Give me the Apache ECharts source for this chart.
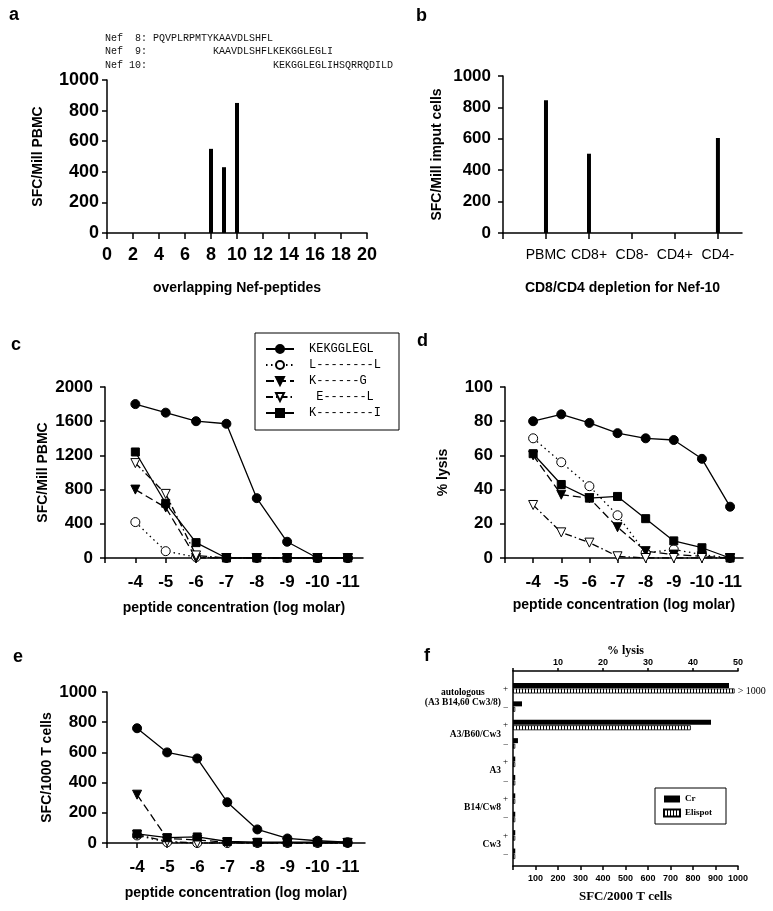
<!DOCTYPE html>
<html><head><meta charset="utf-8">
<script src="https://cdn.jsdelivr.net/npm/echarts@6/dist/echarts.min.js"></script>
<style>html,body{margin:0;padding:0;background:#fff}#c{width:773px;height:911px}</style>
</head><body><div id="c"></div>
<script>
// ---------- data ----------
const seqNames = ['Nef  8:', 'Nef  9:', 'Nef 10:'];
const seqTexts = ['PQVPLRPMTYKAAVDLSHFL', 'KAAVDLSHFLKEKGGLEGLI', 'KEKGGLEGLIHSQRRQDILD'];
const seqOffsets = [0, 10, 20];

const aPeptides = [8, 9, 10];
const aSfc = [550, 430, 850];

const bCategories = ['PBMC', 'CD8+', 'CD8-', 'CD4+', 'CD4-'];
const bSfc = [845, 505, 0, 0, 605];

const conc = [-4, -5, -6, -7, -8, -9, -10, -11];
const peptideNames = ['KEKGGLEGL', 'L--------L', 'K------G', ' E------L', 'K--------I'];

const cKEK = [1800, 1700, 1600, 1570, 700, 190, 0, 0];
const cLL  = [420, 80, 10, 0, 0, 0, 0, 0];
const cKG  = [800, 590, 0, 0, 0, 0, 0, 0];
const cEL  = [1110, 750, 30, 0, 0, 0, 0, 0];
const cKI  = [1240, 640, 180, 0, 0, 0, 0, 0];

const dKEK = [80, 84, 79, 73, 70, 69, 58, 30];
const dLL  = [70, 56, 42, 25, 3, 5, 2, 0];
const dKG  = [60, 37, 35, 18, 4, 2, 1, 0];
const dEL  = [31, 15, 9, 1, 0, 0, 0, 0];
const dKI  = [61, 43, 35, 36, 23, 10, 6, 0];

const eKEK = [760, 600, 560, 270, 90, 30, 15, 5];
const eLL  = [50, 5, 0, 0, 0, 0, 0, 0];
const eKG  = [320, 30, 20, 5, 0, 0, 0, 0];
const eEL  = [55, 10, 0, 0, 0, 0, 0, 0];
const eKI  = [60, 35, 40, 10, 5, 5, 5, 5];

const fGroups = ['autologous\n(A3 B14,60 Cw3/8)', 'A3/B60/Cw3', 'A3', 'B14/Cw8', 'Cw3'];
const fRowSigns = ['+', '–', '+', '–', '+', '–', '+', '–', '+', '–'];
const fCr = [48, 2, 44, 1.1, 0.5, 0.5, 0.5, 0.5, 0.5, 0.5];
const fElispot = [985, 10, 790, 10, 10, 10, 10, 10, 10, 10];
const fElispotNote = '> 1000';

// ---------- styles ----------
const SANS = '"Liberation Sans", Arial, sans-serif';
const SERIF = '"Liberation Serif", "Times New Roman", serif';
const MONO = '"Liberation Mono", "Courier New", monospace';
const LS = {color: '#000', width: 1.5};
function aLine() { return {show: true, onZero: false, lineStyle: LS}; }
function aTick(len, extra) { return Object.assign({show: true, length: len, lineStyle: LS}, extra || {}); }
function lbl(size, margin, extra) {
  return Object.assign({color: '#000', fontFamily: SANS, fontWeight: 'bold', fontSize: size, margin: margin,
    formatter: v => String(v)}, extra || {});
}
const nameStyle = {color: '#000', fontFamily: SANS, fontWeight: 'bold', fontSize: 14};

const marks = [
  {symbol: 'circle', size: 9, fill: '#000', line: 'solid', z: 5},
  {symbol: 'circle', size: 9, fill: '#fff', line: [1.5, 3.5], z: 2},
  {symbol: 'triangle', rotate: 180, size: 9, fill: '#000', line: [8, 4], z: 2},
  {symbol: 'triangle', rotate: 180, size: 9, fill: '#fff', line: [7, 3, 1.5, 3], z: 2},
  {symbol: 'rect', size: 8, fill: '#000', line: 'solid', z: 3}
];
function lineSeries(k, axis, values) {
  const m = marks[k];
  return {
    type: 'line', name: peptideNames[k], xAxisIndex: axis, yAxisIndex: axis,
    data: conc.map((c, i) => [-c, values[i]]),
    symbol: m.symbol, symbolSize: m.size, symbolRotate: m.rotate || 0, showSymbol: true,
    itemStyle: {color: m.fill, borderColor: '#000', borderWidth: 1},
    lineStyle: {color: '#000', width: 1.3, type: m.line},
    z: m.z, silent: true
  };
}
function concAxis(grid, max, gap) {
  return {
    type: 'value', gridIndex: grid, min: 3, max: max, interval: 1,
    axisLine: aLine(),
    axisTick: aTick(5, {customValues: [3].concat(conc.map(c => -c))}),
    axisLabel: lbl(17, 16, {customValues: conc.map(c => -c), formatter: v => String(-v)}),
    splitLine: {show: false},
    name: 'peptide concentration (log molar)', nameLocation: 'middle', nameGap: gap, nameTextStyle: nameStyle
  };
}
function yValAxis(grid, max, interval, size, margin, name, gap) {
  return {
    type: 'value', gridIndex: grid, min: 0, max: max, interval: interval,
    axisLine: aLine(), axisTick: aTick(5), axisLabel: lbl(size, margin), splitLine: {show: false},
    name: name, nameLocation: 'middle', nameGap: gap, nameTextStyle: nameStyle
  };
}

// Elispot stripe pattern
const pat = document.createElement('canvas');
pat.width = 3; pat.height = 4;
const g = pat.getContext('2d');
g.fillStyle = '#fff'; g.fillRect(0, 0, 3, 4);
g.fillStyle = '#000'; g.fillRect(0, 0, 1, 4);

const letters = [['a', 9, 6], ['b', 416, 7], ['c', 11, 336], ['d', 417, 332], ['e', 13, 648], ['f', 424, 647]];
const titles = letters.map(l => ({text: l[0], left: l[1], top: l[2], padding: 0,
  textStyle: {fontFamily: SANS, fontWeight: 'bold', fontSize: 18, color: '#000'}}));
seqNames.forEach((n, i) => {
  titles.push({text: n + ' ' + ' '.repeat(seqOffsets[i]) + seqTexts[i], left: 105, top: 33 + i * 13.5, padding: 0,
    textStyle: {fontFamily: MONO, fontWeight: 'normal', fontSize: 10, color: '#111'}});
});

const noBounds = {outerBoundsMode: 'none', containLabel: false};
const option = {
  animation: false,
  backgroundColor: '#fff',
  textStyle: {fontFamily: SANS},
  title: titles,
  grid: [
    Object.assign({left: 107, top: 80, width: 260, height: 153}, noBounds),
    Object.assign({left: 503, top: 76, width: 239, height: 157}, noBounds),
    Object.assign({left: 105, top: 387, width: 258, height: 171}, noBounds),
    Object.assign({left: 505, top: 387, width: 238, height: 171}, noBounds),
    Object.assign({left: 107, top: 692, width: 258, height: 151}, noBounds),
    Object.assign({left: 513, top: 671, width: 225, height: 195}, noBounds),
    Object.assign({left: 513, top: 679, width: 225, height: 184}, noBounds)
  ],
  legend: [
    {data: peptideNames, orient: 'vertical', left: 255, top: 333, padding: [10, 18, 11, 10],
      itemWidth: 28, itemHeight: 10, itemGap: 4, borderColor: '#000', borderWidth: 1, selectedMode: false,
      textStyle: {fontFamily: MONO, fontSize: 12, color: '#000', lineHeight: 12, padding: [0, 0, 0, 10]}},
    {data: ['Cr', 'Elispot'], orient: 'vertical', left: 655, top: 788, padding: [6, 14, 6, 8], icon: 'rect',
      itemWidth: 16, itemHeight: 7, itemGap: 4, borderColor: '#000', borderWidth: 1, selectedMode: false,
      textStyle: {fontFamily: SERIF, fontWeight: 'bold', fontSize: 9, color: '#000', lineHeight: 10}}
  ],
  xAxis: [
    {type: 'value', gridIndex: 0, min: 0, max: 20, interval: 2, axisLine: aLine(), axisTick: aTick(6),
      axisLabel: lbl(18, 13), splitLine: {show: false},
      name: 'overlapping Nef-peptides', nameLocation: 'middle', nameGap: 48, nameTextStyle: nameStyle},
    {type: 'value', gridIndex: 1, min: 0, max: 5.56, interval: 1, axisLine: aLine(),
      axisTick: aTick(6, {customValues: [0].concat(bCategories.map((c, i) => i + 1))}),
      axisLabel: lbl(14, 15, {fontWeight: 'normal', customValues: bCategories.map((c, i) => i + 1),
        formatter: v => bCategories[Math.round(v) - 1] || ''}),
      splitLine: {show: false},
      name: 'CD8/CD4 depletion for Nef-10', nameLocation: 'middle', nameGap: 48, nameTextStyle: nameStyle},
    concAxis(2, 11.5, 43),
    concAxis(3, 11.46, 40),
    concAxis(4, 11.58, 43),
    {type: 'value', gridIndex: 5, position: 'top', min: 0, max: 50, interval: 10, axisLine: aLine(),
      axisTick: aTick(3), axisLabel: lbl(9, 4, {formatter: v => v === 0 ? '' : String(v)}), splitLine: {show: false},
      name: '% lysis', nameLocation: 'middle', nameGap: 13,
      nameTextStyle: {color: '#000', fontFamily: SERIF, fontWeight: 'bold', fontSize: 12}},
    {type: 'value', gridIndex: 5, position: 'bottom', min: 0, max: 1000, interval: 100, axisLine: aLine(),
      axisTick: aTick(4), axisLabel: lbl(9, 8, {formatter: v => v === 0 ? '' : String(v)}), splitLine: {show: false},
      name: 'SFC/2000 T cells', nameLocation: 'middle', nameGap: 24,
      nameTextStyle: {color: '#000', fontFamily: SERIF, fontWeight: 'bold', fontSize: 13}},
    {type: 'value', gridIndex: 6, show: false, min: 0, max: 50, position: 'top'},
    {type: 'value', gridIndex: 6, show: false, min: 0, max: 1000, position: 'bottom'}
  ],
  yAxis: [
    yValAxis(0, 1000, 200, 18, 8, 'SFC/Mill PBMC', 62),
    yValAxis(1, 1000, 200, 17, 12, 'SFC/Mill imput cells', 59),
    yValAxis(2, 2000, 400, 17, 12, 'SFC/Mill PBMC', 55),
    yValAxis(3, 100, 20, 17, 12, '% lysis', 55),
    yValAxis(4, 1000, 200, 17, 10, 'SFC/1000 T cells', 53),
    {type: 'value', gridIndex: 5, min: 0, max: 1, axisLine: aLine(), axisTick: {show: false},
      axisLabel: {show: false}, splitLine: {show: false}},
    {type: 'category', gridIndex: 6, position: 'left', inverse: true, data: fRowSigns.map((s, i) => 'row' + i),
      axisLine: {show: false}, axisTick: {show: false}, splitLine: {show: false},
      axisLabel: {interval: 0, margin: 5, color: '#000', fontFamily: SERIF, fontSize: 9,
        formatter: (v, i) => fRowSigns[i]}},
    {type: 'category', gridIndex: 6, position: 'left', inverse: true, data: fGroups,
      axisLine: {show: false}, axisTick: {show: false}, splitLine: {show: false},
      axisLabel: {interval: 0, margin: 12, color: '#000', fontFamily: SERIF, fontWeight: 'bold', fontSize: 9.5,
        lineHeight: 10,
        formatter: v => v.indexOf('\n') >= 0 ? v.split('\n').map(t => '{c|' + t + '}').join('\n') : v,
        rich: {c: {align: 'center', fontFamily: SERIF, fontWeight: 'bold', fontSize: 9.5, lineHeight: 10, color: '#000'}}}}
  ],
  series: [
    {type: 'bar', xAxisIndex: 0, yAxisIndex: 0, barWidth: 4, itemStyle: {color: '#000'},
      data: aPeptides.map((p, i) => [p, aSfc[i]]), silent: true},
    {type: 'bar', xAxisIndex: 1, yAxisIndex: 1, barWidth: 4, itemStyle: {color: '#000'},
      data: bCategories.map((c, i) => [i + 1, bSfc[i]]), silent: true},
    lineSeries(1, 2, cLL), lineSeries(2, 2, cKG), lineSeries(3, 2, cEL), lineSeries(4, 2, cKI), lineSeries(0, 2, cKEK),
    lineSeries(1, 3, dLL), lineSeries(2, 3, dKG), lineSeries(3, 3, dEL), lineSeries(4, 3, dKI), lineSeries(0, 3, dKEK),
    lineSeries(1, 4, eLL), lineSeries(2, 4, eKG), lineSeries(3, 4, eEL), lineSeries(4, 4, eKI), lineSeries(0, 4, eKEK),
    {type: 'bar', name: 'Cr', xAxisIndex: 7, yAxisIndex: 6, barWidth: 5, barGap: '10%',
      itemStyle: {color: '#000'}, data: fCr, silent: true},
    {type: 'bar', name: 'Elispot', xAxisIndex: 8, yAxisIndex: 6, barWidth: 5, barGap: '10%',
      itemStyle: {color: {image: pat, repeat: 'repeat'}, borderColor: '#000', borderWidth: 0.8},
      data: fElispot.map((v, i) => i === 0 ? {value: v, label: {show: true, position: 'right', distance: 3,
        formatter: fElispotNote, fontFamily: SERIF, fontSize: 10, color: '#000'}} : v), silent: true}
  ]
};
const chart = echarts.init(document.getElementById('c'), null, {renderer: 'canvas', width: 773, height: 911});
chart.setOption(option);
</script>
</body></html>
